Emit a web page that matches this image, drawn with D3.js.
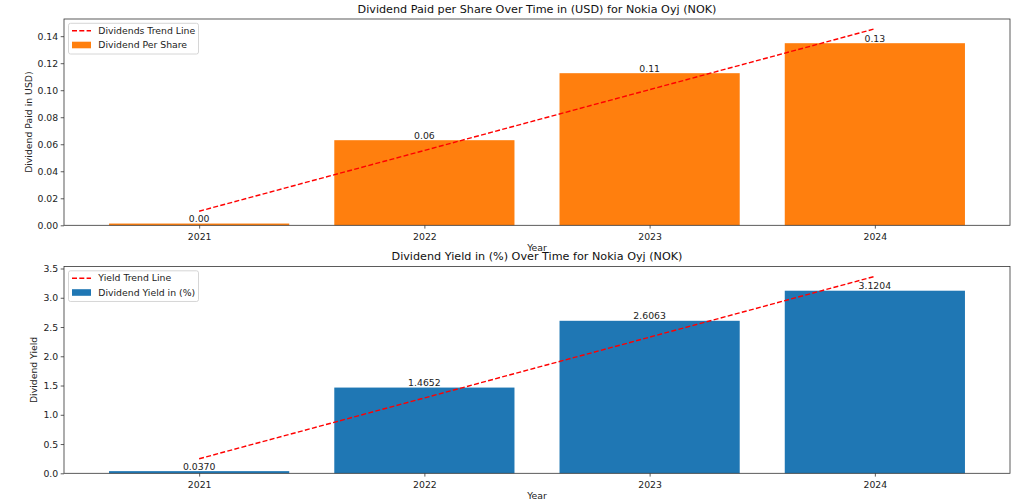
<!DOCTYPE html>
<html><head><meta charset="utf-8">
<script src="https://cdn.jsdelivr.net/npm/d3@7"></script>
<style>body{margin:0;background:#fff}svg{display:block;font-family:"DejaVu Sans",sans-serif}</style>
</head><body><svg id="c" width="1024" height="503"></svg>
<script>
const years = ["2021","2022","2023","2024"];
const dividends = [0.0013, 0.063, 0.1126, 0.1348];
const dividendLabels = ["0.00","0.06","0.11","0.13"];
const yields = [0.0370, 1.4652, 2.6063, 3.1204];
const yieldLabels = ["0.0370","1.4652","2.6063","3.1204"];
const divTicks = [0,0.02,0.04,0.06,0.08,0.10,0.12,0.14];
const yieldTicks = [0,0.5,1.0,1.5,2.0,2.5,3.0,3.5];

function fit(v){const n=v.length,mx=(n-1)/2,my=d3.mean(v);let s=0,q=0;v.forEach((y,i)=>{s+=(i-mx)*(y-my);q+=(i-mx)*(i-mx)});const b=s/q;return v.map((_,i)=>my+b*(i-mx));}

const FS=9.3, TFS=11.2, L=64, R=1010;
const svg=d3.select("#c");
function panel(o){
  const g=svg.append("g");
  const x=d3.scaleLinear().domain([-0.6,3.6]).range([L,R]);
  const trend=fit(o.values);
  const ymax=Math.max(d3.max(trend),d3.max(o.values))*1.05;
  const y=d3.scaleLinear().domain([0,ymax]).range([o.bottom,o.top]);
  const bw=x(0.8)-x(0);
  g.selectAll("rect.bar").data(o.values).join("rect").attr("class","bar")
    .attr("x",(d,i)=>x(i)-bw/2).attr("width",bw)
    .attr("y",d=>y(d)).attr("height",d=>y(0)-y(d)).attr("fill",o.color);
  g.selectAll("text.vl").data(o.values).join("text").attr("class","vl")
    .attr("x",(d,i)=>x(i)).attr("y",d=>y(d)-1.5).attr("text-anchor","middle")
    .attr("font-size",FS).attr("fill","#222").text((d,i)=>o.labels[i]);
  const line=d3.line().x((d,i)=>x(i)).y(d=>y(d));
  g.append("path").attr("d",line(trend)).attr("fill","none").attr("stroke","red")
    .attr("stroke-width",1.4).attr("stroke-dasharray","5,2.3");
  // axes
  const ya=d3.axisLeft(y).tickValues(o.ticks).tickFormat(o.fmt).tickSize(3.3).tickPadding(2.5);
  const ga=g.append("g").attr("transform",`translate(${L},0)`).call(ya);
  const xa=d3.axisBottom(x).tickValues([0,1,2,3]).tickFormat(i=>years[i]).tickSize(3.3).tickPadding(4.5);
  const gx=g.append("g").attr("transform",`translate(0,${o.bottom})`).call(xa);
  [ga,gx].forEach(a=>{a.select(".domain").remove();a.selectAll("text").attr("font-size",FS).attr("fill","#222").attr("font-family","DejaVu Sans");a.selectAll("line").attr("stroke","#333").attr("stroke-width",0.8);});
  g.append("rect").attr("x",L).attr("y",o.top).attr("width",R-L).attr("height",o.bottom-o.top)
    .attr("fill","none").attr("stroke","#333").attr("stroke-width",0.8);
  g.append("text").attr("x",537).attr("y",o.top-6.3).attr("text-anchor","middle").attr("font-size",TFS).attr("fill","#111").text(o.title);
  g.append("text").attr("x",537).attr("y",o.bottom+26).attr("text-anchor","middle").attr("font-size",FS).attr("fill","#222").text("Year");
  g.append("text").attr("transform",`translate(${o.ylx},${(o.top+o.bottom)/2}) rotate(-90)`).attr("text-anchor","middle").attr("font-size",FS).attr("fill","#222").text(o.ylabel);
  // legend
  const lg=g.append("g").attr("transform",`translate(68.5,${o.top+4.3})`);
  lg.append("rect").attr("width",o.lw).attr("height",30.7).attr("rx",2).attr("fill","#fff").attr("fill-opacity",0.8).attr("stroke","#ccc").attr("stroke-width",0.8);
  lg.append("line").attr("x1",3.5).attr("x2",22.5).attr("y1",7.4).attr("y2",7.4).attr("stroke","red").attr("stroke-width",1.4).attr("stroke-dasharray","5,2.3");
  lg.append("text").attr("x",29.8).attr("y",10.7).attr("font-size",FS).attr("fill","#222").text(o.leg1);
  lg.append("rect").attr("x",3.5).attr("y",18.4).attr("width",19).attr("height",6.6).attr("fill",o.color);
  lg.append("text").attr("x",29.8).attr("y",25.2).attr("font-size",FS).attr("fill","#222").text(o.leg2);
}
panel({values:dividends,labels:dividendLabels,ticks:divTicks,fmt:d3.format(".2f"),top:19,bottom:225.3,color:"#ff7f0e",
  title:"Dividend Paid per Share Over Time in (USD) for Nokia Oyj (NOK)",ylabel:"Dividend Paid in USD)",ylx:32,
  leg1:"Dividends Trend Line",leg2:"Dividend Per Share",lw:130});
panel({values:yields,labels:yieldLabels,ticks:yieldTicks,fmt:d3.format(".1f"),top:266.5,bottom:473.3,color:"#1f77b4",
  title:"Dividend Yield in (%) Over Time for Nokia Oyj (NOK)",ylabel:"Dividend Yield",ylx:37,
  leg1:"Yield Trend Line",leg2:"Dividend Yield in (%)",lw:130});
</script></body></html>
